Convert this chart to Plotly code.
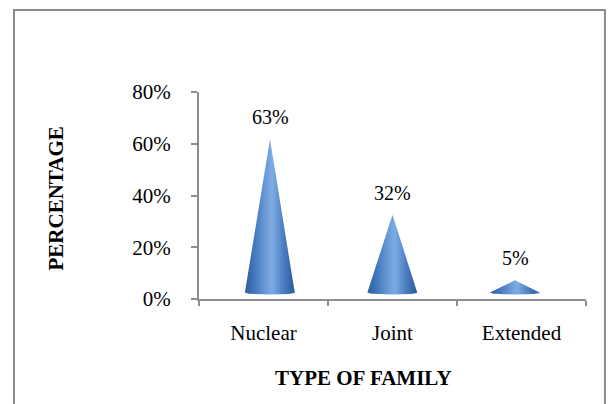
import numpy as np
import plotly.graph_objects as go

# ---- data ----
categories = ["Nuclear", "Joint", "Extended"]
values = [0.63, 0.32, 0.05]
value_labels = ["63%", "32%", "5%"]
y_ticks = [0, 0.2, 0.4, 0.6, 0.8]

# ---- style constants ----
FONT = "Liberation Serif"
AXIS_GRAY = "#8e8e8e"
BASE_OFFSET = 0.025      # 3-D floor offset of cone base
DEPTH_SCALE = 0.94       # perspective scale of cone height
HALF_W = 0.205           # cone base half width (x2 units)
BASE_RY = 0.008          # base ellipse vertical radius
cone_scale = [[0.0, "#2e5d9c"], [0.18, "#4176bb"], [0.42, "#6b9bd7"],
              [0.55, "#7eabe3"], [0.78, "#4a7cc0"], [1.0, "#2c5a98"]]

fig = go.Figure()

# invisible trace establishing the category axis
fig.add_trace(go.Scatter(x=categories, y=values, mode="markers",
                         marker=dict(opacity=0), hoverinfo="skip",
                         showlegend=False, xaxis="x", yaxis="y"))

t = np.linspace(0, np.pi, 40)
for i, v in enumerate(values):
    apex = BASE_OFFSET + v * DEPTH_SCALE
    xs = [i] + list(i + HALF_W * np.cos(t)) + [i]
    ys = [apex] + list(BASE_OFFSET - BASE_RY * np.sin(t)) + [apex]
    fig.add_trace(go.Scatter(
        x=xs, y=ys, mode="lines", fill="toself",
        line=dict(width=0, color="#4a7cc0"),
        fillgradient=dict(type="horizontal", colorscale=cone_scale),
        hoverinfo="skip", showlegend=False, xaxis="x2", yaxis="y"))
    fig.add_annotation(x=i, y=apex, xref="x2", yref="y", text=value_labels[i],
                       showarrow=False, yanchor="middle", yshift=22,
                       font=dict(family=FONT, size=20, color="black"))

fig.update_layout(
    width=611, height=404,
    margin=dict(l=199, r=25, t=92, b=105),
    paper_bgcolor="white", plot_bgcolor="white",
    showlegend=False,
    font=dict(family=FONT, size=21, color="black"),
    xaxis=dict(type="category", categoryarray=categories, range=[-0.5, 2.5],
               tickson="boundaries", ticks="outside", ticklen=5, tickwidth=2,
               tickcolor=AXIS_GRAY, showline=True, linecolor=AXIS_GRAY,
               linewidth=2, showgrid=False, zeroline=False,
               ticklabelstandoff=14,
               tickfont=dict(family=FONT, size=21, color="black")),
    xaxis2=dict(overlaying="x", anchor="y", range=[-0.5796, 2.5796],
                visible=False),
    yaxis=dict(range=[0, 0.8], tickvals=y_ticks, tickformat=".0%",
               ticks="outside", ticklen=6, tickwidth=2, tickcolor=AXIS_GRAY,
               showline=True, linecolor=AXIS_GRAY, linewidth=2,
               showgrid=False, zeroline=False, ticklabelstandoff=16,
               tickfont=dict(family=FONT, size=21, color="black")),
)

# axis titles
fig.add_annotation(text="<b>TYPE OF FAMILY</b>", xref="paper", yref="paper",
                   x=0.424, y=-0.382, showarrow=False, xanchor="center",
                   yanchor="middle", font=dict(family=FONT, size=21, color="black"))
fig.add_annotation(text="<b>PERCENTAGE</b>", xref="paper", yref="paper",
                   x=-0.372, y=0.4855, showarrow=False, textangle=-90,
                   xanchor="center", yanchor="middle",
                   font=dict(family=FONT, size=21, color="black"))

# outer chart border
fig.add_shape(type="rect", xref="paper", yref="paper",
              x0=-0.478, x1=1.049, y0=-0.55, y1=1.396,
              line=dict(color="#8a8a8a", width=2), fillcolor="rgba(0,0,0,0)",
              layer="below")

fig.write_html("out.html")
